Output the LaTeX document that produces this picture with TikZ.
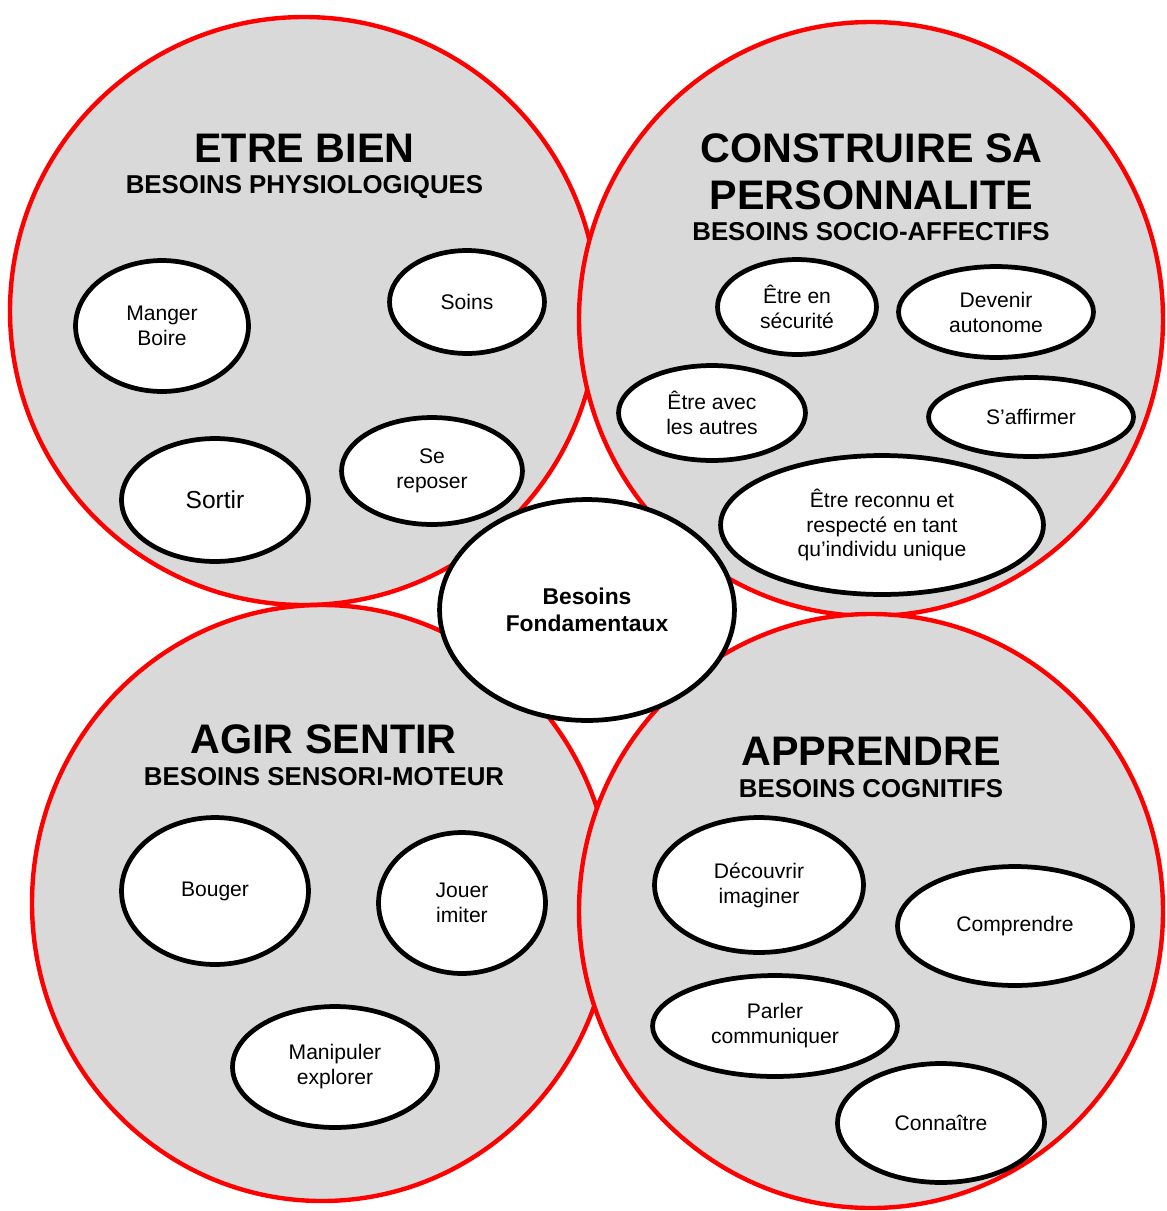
\documentclass[tikz,border=0pt]{standalone}
\usepackage{fontspec}
\setmainfont{Liberation Sans}
\usepackage{xcolor}
\usepackage{tikz}
\usetikzlibrary{shapes.geometric}

\definecolor{gris}{HTML}{D9D9D9}
\newcommand{\grandtitre}{\fontsize{23.5}{26.6}\selectfont\bfseries}
\newcommand{\soustitre}{\fontsize{14.7}{16}\selectfont\bfseries}
\newcommand{\txtbulle}{\fontsize{12}{14.2}\selectfont}
\newcommand{\txtcentre}{\fontsize{13}{15.3}\selectfont\bfseries}

\begin{document}
\begin{tikzpicture}[x=0.02cm,y=-0.02cm,
        zone/.style={fill=gris,draw=red,line width=2.5pt},
        titre/.style={anchor=base,inner sep=0pt,font=\grandtitre},
        sstitre/.style={anchor=base,inner sep=0pt,font=\soustitre},
        bulle/.style 2 args={ellipse,draw,fill=white,line width=2.7pt,inner sep=0pt,
            align=center,font=\txtbulle,
            minimum width=0.04cm*#1-0.1cm,minimum height=0.04cm*#2-0.1cm}]
    \useasboundingbox (0,0) rectangle (1167,1211);

    % les quatre zones
    \draw[zone] (304,311) ellipse [x radius=294, y radius=294];
    \draw[zone] (871,319) ellipse [x radius=292, y radius=297];
    \draw[zone] (322,903) ellipse [x radius=290, y radius=298];
    \draw[zone] (871,911) ellipse [x radius=292, y radius=297];

    % titres
    \node[titre] (bien) at (304.5,162.7) {ETRE BIEN};
    \node[sstitre] (physio) at (304.5,193.3) {BESOINS PHYSIOLOGIQUES};
    \node[titre] (construire) at (871.5,162) {CONSTRUIRE SA};
    \node[titre] (perso) at (871.5,209) {PERSONNALITE};
    \node[sstitre] (socio) at (871,240) {BESOINS SOCIO-AFFECTIFS};
    \node[titre] (agir) at (323.5,753) {AGIR SENTIR};
    \node[sstitre] (sensori) at (324,785) {BESOINS SENSORI-MOTEUR};
    \node[titre] (apprendre) at (871,765) {APPRENDRE};
    \node[sstitre] (cognitif) at (871,797) {BESOINS COGNITIFS};

    \node[bulle={150}{113},font=\txtcentre] (besoins) at (587,610) {Besoins\\Fondamentaux};

    % etre bien
    \node[bulle={89}{68}] (manger) at (162,326) {Manger\\Boire};
    \node[bulle={80}{54}] (soins) at (467,302) {Soins};
    \node[bulle={96}{64},font=\fontsize{14}{16}\selectfont] (sortir) at (215,500) {Sortir};
    \node[bulle={93}{56}] (repos) at (432,471) {Se\\reposer};
    % construire sa personnalite
    \node[bulle={82}{50}] (securite) at (797,307) {Être en\\sécurité};
    \node[bulle={100}{48}] (autonome) at (996,312) {Devenir\\autonome};
    \node[bulle={96}{50}] (autres) at (712,413) {Être avec\\les autres};
    \node[bulle={105}{42}] (affirmer) at (1031,417) {S’affirmer};
    \node[bulle={164}{72}] (reconnu) at (882,525) {Être reconnu et\\respecté en tant\\qu’individu unique};
    % agir sentir
    \node[bulle={96}{76}] (bouger) at (215,891) {Bouger};
    \node[bulle={86}{73}] (jouer) at (462,903) {Jouer\\imiter};
    \node[bulle={105}{63}] (manipuler) at (335,1067) {Manipuler\\explorer};
    % apprendre
    \node[bulle={107}{70}] (decouvrir) at (759,885) {Découvrir\\imaginer};
    \node[bulle={120}{62}] (comprendre) at (1015,926) {Comprendre};
    \node[bulle={125}{53}] (parler) at (775,1026) {Parler\\communiquer};
    \node[bulle={106}{62}] (connaitre) at (941,1123) {Connaître};
\end{tikzpicture}
\end{document}
